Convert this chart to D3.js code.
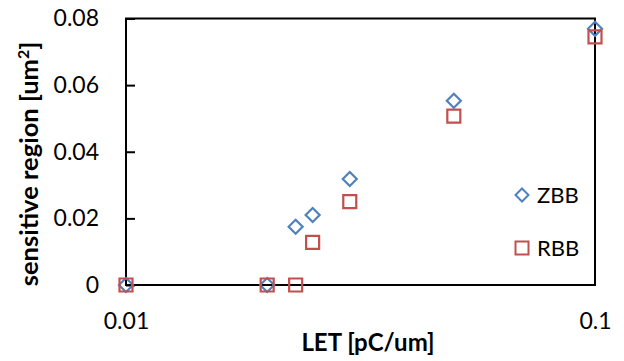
<!DOCTYPE html>
<html lang="en">
<head>
    <meta charset="UTF-8">
    <title>Sensitive region vs LET</title>
    <script src="https://d3js.org/d3.v7.min.js"></script>
    <style>
        body {
            margin: 0;
            background: #fff;
            font-family: Lato, "Open Sans", sans-serif;
        }
        .axis text {
            font-size: 23px;
            fill: #000;
        }
        .title {
            font-size: 24px;
            font-weight: bold;
            fill: #000;
        }
        .legend text {
            font-size: 22px;
            fill: #000;
        }
    </style>
</head>
<body>
    <div id="chart"></div>

    <script>
        // Data
        const letValues = [0.01, 0.02, 0.023, 0.025, 0.03, 0.05, 0.1];
        const zbbValues = [0, 0, 0.0175, 0.021, 0.0318, 0.0553, 0.0769];
        const rbbValues = [0, 0, 0, 0.0128, 0.025, 0.0507, 0.0745];
        const yTicks = [0, 0.02, 0.04, 0.06, 0.08];
        const xTicks = [0.01, 0.1];

        const series = [
            { name: "ZBB", values: zbbValues, color: "#4F81BD", shape: "diamond" },
            { name: "RBB", values: rbbValues, color: "#C0504D", shape: "square" }
        ];

        const W = 624, H = 361;
        const margin = { top: 18.5, right: 29, bottom: 76, left: 126 };

        const svg = d3.select("#chart")
                      .append("svg")
                      .attr("width", W)
                      .attr("height", H);

        const x = d3.scaleLog()
                    .domain([0.01, 0.1])
                    .range([margin.left, W - margin.right]);

        const y = d3.scaleLinear()
                    .domain([0, 0.08])
                    .range([H - margin.bottom, margin.top]);

        // y axis with inside ticks
        const yAxis = svg.append("g")
            .attr("class", "axis")
            .attr("transform", `translate(${margin.left},0)`)
            .call(d3.axisLeft(y).tickValues(yTicks).tickSize(-9).tickPadding(27)
                    .tickFormat(d => d === 0 ? "0" : d3.format(".2f")(d)));
        yAxis.select(".domain").remove();
        yAxis.selectAll("line").attr("stroke", "#000").attr("stroke-width", 2);
        yAxis.selectAll("text").style("font-family", "Lato, sans-serif");

        // x axis (log), only labels
        const xAxis = svg.append("g")
            .attr("class", "axis")
            .attr("transform", `translate(0,${y(0)})`)
            .call(d3.axisBottom(x).tickValues(xTicks).tickSize(0).tickPadding(28)
                    .tickFormat(d3.format("")));
        xAxis.select(".domain").remove();
        xAxis.selectAll("text").style("font-family", "Lato, sans-serif");

        // frame
        svg.append("rect")
           .attr("x", x(0.01))
           .attr("y", y(0.08))
           .attr("width", x(0.1) - x(0.01))
           .attr("height", y(0) - y(0.08))
           .attr("fill", "none")
           .attr("stroke", "#000")
           .attr("stroke-width", 2);

        // marker path
        function markerPath(shape, r) {
            if (shape === "diamond") {
                return `M0,${-r}L${r},0L0,${r}L${-r},0Z`;
            }
            return `M${-r},${-r}H${r}V${r}H${-r}Z`;
        }

        series.forEach(s => {
            svg.append("g")
               .selectAll("path")
               .data(letValues.map((v, i) => ({ x: v, y: s.values[i] })))
               .enter().append("path")
               .attr("transform", d => `translate(${x(d.x)},${y(d.y)})`)
               .attr("d", markerPath(s.shape, s.shape === "diamond" ? 7 : 6.5))
               .attr("fill", "none")
               .attr("stroke", s.color)
               .attr("stroke-width", 2.2);
        });

        // legend
        const legend = svg.append("g").attr("class", "legend");
        const legendY = [195, 248];
        series.forEach((s, i) => {
            legend.append("path")
                  .attr("transform", `translate(522,${legendY[i]})`)
                  .attr("d", markerPath(s.shape, 6.5))
                  .attr("fill", "none")
                  .attr("stroke", s.color)
                  .attr("stroke-width", 2);
            legend.append("text")
                  .attr("x", 537)
                  .attr("y", legendY[i])
                  .attr("dy", "0.36em")
                  .text(s.name);
        });

        // axis titles
        svg.append("text")
           .attr("class", "title")
           .attr("x", 368)
           .attr("y", 351)
           .attr("text-anchor", "middle")
           .text("LET [pC/um]");

        const yTitle = svg.append("text")
           .attr("class", "title")
           .attr("transform", "translate(38,164) rotate(-90)")
           .attr("text-anchor", "middle")
           .style("font-size", "25.5px");
        yTitle.append("tspan").text("sensitive region [um");
        yTitle.append("tspan").attr("dy", -9).style("font-size", "16px").text("2");
        yTitle.append("tspan").attr("dy", 9).text("]");
    </script>
</body>
</html>
